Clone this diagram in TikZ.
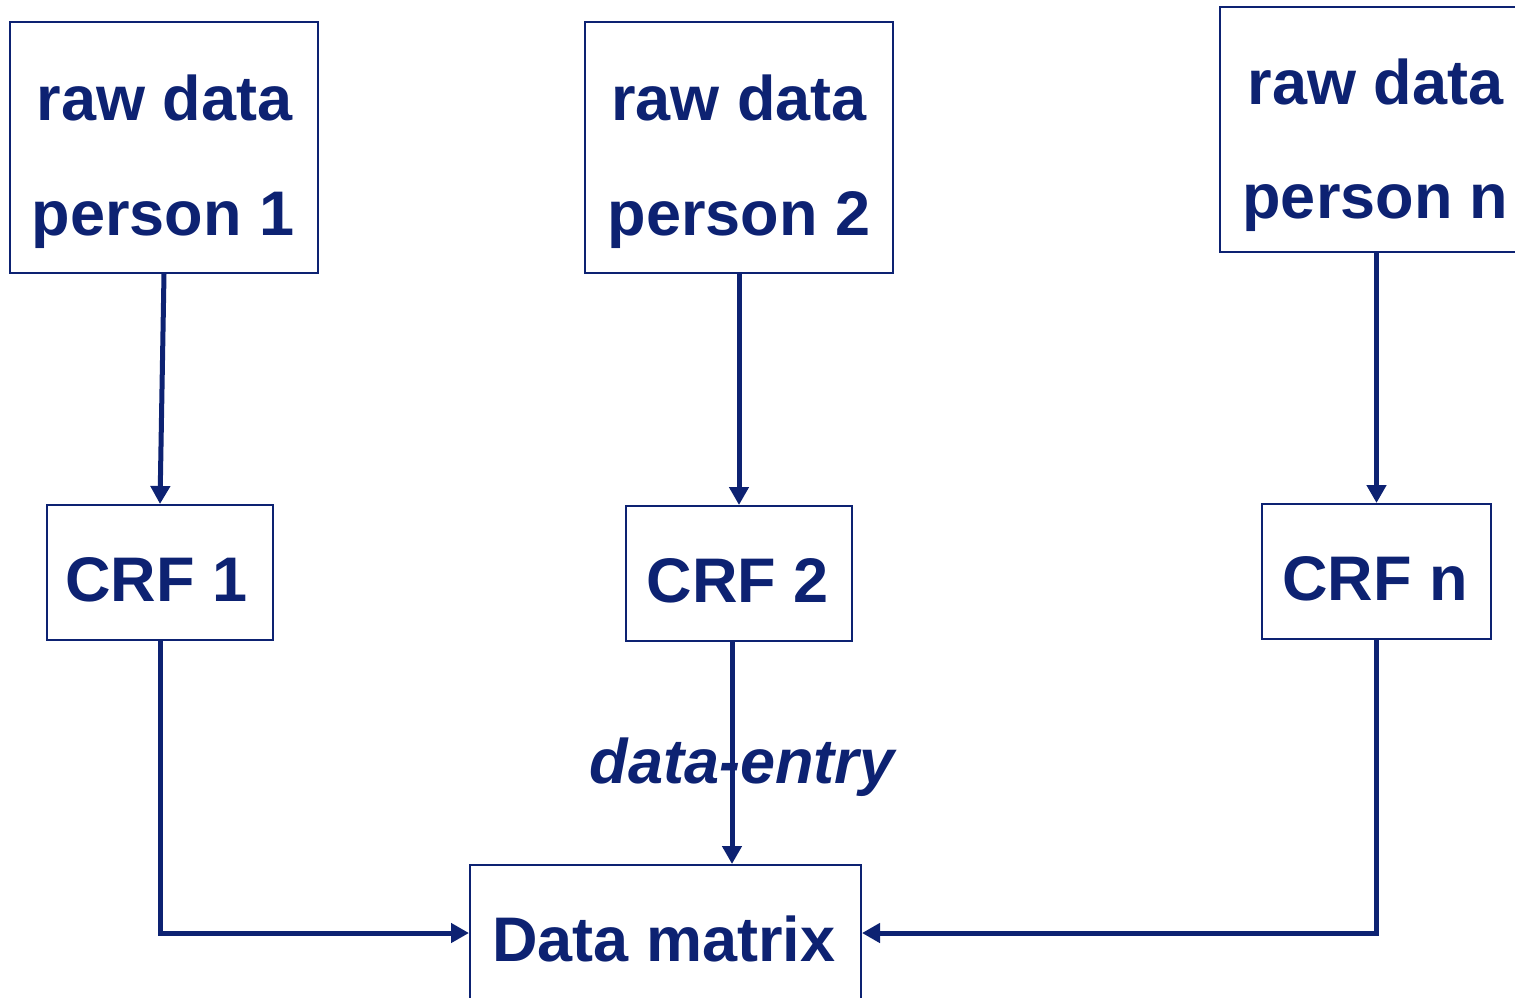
\documentclass[tikz,border=0pt]{standalone}
\usepackage{fontspec}
\setmainfont{Liberation Sans}
\usetikzlibrary{arrows.meta,calc}
\definecolor{navy}{RGB}{13,34,114}
\tikzset{
  box/.style={draw=navy, line width=1pt, inner sep=0pt, fill=white},
  tall/.style={box, minimum width=154pt, minimum height=125.5pt},
  crf/.style={box, minimum width=113pt, minimum height=67.5pt},
  txt/.style={text=navy, inner sep=0pt, anchor=base,
    font=\fontsize{31.5}{37}\selectfont\bfseries},
  flow/.style={draw=navy, line width=2.5pt,
    -{Triangle[length=9pt,width=9.5pt]}},
}
\begin{document}
\begin{tikzpicture}[x=0.5pt,y=-0.5pt]
  \useasboundingbox (0,0) rectangle (1515,997);
  \clip (0,0) rectangle (1515,997);

  % raw data boxes
  \node[tall] (p1) at (164,147.5) {};
  \node[tall] (p2) at (739,147.5) {};
  \node[tall, minimum height=122.5pt] (p3) at (1374,129.5) {};
  \node[txt] (p1a) at (164.5,120) {raw data};
  \node[txt] (p1b) at (163,235) {person 1};
  \node[txt] (p2a) at (739,120) {raw data};
  \node[txt] (p2b) at (739,235) {person 2};
  \node[txt] (p3a) at (1375.5,104) {raw data};
  \node[txt] (p3b) at (1375.5,218) {person n};

  % case report forms
  \node[crf] (c1) at (160,572.5) {};
  \node[crf] (c2) at (739,573.5) {};
  \node[crf, minimum width=114.5pt] (cn) at (1376.5,571.5) {};
  \node[txt] (c1t) at (156.5,601) {CRF 1};
  \node[txt] (c2t) at (738,602) {CRF 2};
  \node[txt] (cnt) at (1375,600) {CRF n};

  % data matrix
  \node[box, minimum width=195.5pt, minimum height=68pt] (dm) at (665.5,933) {};
  \node[txt] (dmt) at (664,961) {Data matrix};

  % label of the data entry step
  \node[txt, font=\fontsize{31.5}{37}\selectfont\bfseries\itshape] (de) at (742,783) {data-entry};

  % connectors
  \draw[flow] (p1.south) -- (c1.north);
  \draw[flow] (p2.south) -- (c2.north);
  \coordinate (p3s) at (cn.north |- p3.south);
  \draw[flow] (p3s) -- (cn.north);
  \draw[flow] (c1.south) |- (dm.west);
  \coordinate (c2s) at ($(c2.south)+(-7,0)$);
  \draw[flow] (c2s) -- (c2s |- dm.north);
  \draw[flow] (cn.south) |- (dm.east);
\end{tikzpicture}
\end{document}
